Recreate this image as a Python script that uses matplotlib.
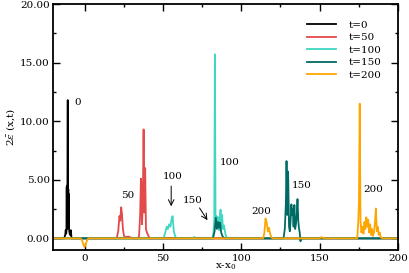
import numpy as np
import matplotlib.pyplot as plt
from matplotlib.ticker import MultipleLocator, FormatStrFormatter

plt.rcParams['font.family'] = ['DejaVu Serif']
plt.rcParams['mathtext.fontset'] = 'dejavuserif'

# wave energy density snapshots
x_t0 = [-20, -13, -12.3, -12.0, -11.7, -11.5, -11.35, -11.25, -11.15, -11.05, -10.95,
        -10.85, -10.75, -10.7, -10.65, -10.55, -10.45, -10.35, -10.25, -10.15, -10.05,
        -9.9, -9.6, -9.3, -9.0, -8.7, -8.3, 200]
y_t0 = [0, 0, 0.3, 0.7, 0.4, 0.6, 4.4, 0.8, 4.5, 1.0, 4.3,
        3.0, 9.0, 11.8, 2.5, 4.4, 1.0, 4.2, 0.9, 3.8, 1.2,
        0.8, 0.5, 0.3, 0.6, 0.7, 0.0, 0]

x_t50 = [-20, 20.5, 21.5, 22.3, 22.8, 23.4, 23.9, 24.5, 25.2, 26, 28, 30, 31,
         34, 34.8, 35.5, 36.0, 36.3, 36.7, 37.2, 37.7, 38.2, 38.7, 39.2, 39.8, 40.5, 41.5, 200]
y_t50 = [0, 0, 0.6, 1.9, 1.5, 2.65, 2.1, 0.8, 0.2, 0.1, 0.15, 0.05, 0,
         0, 0.2, 2.0, 5.1, 4.6, 1.2, 3.0, 9.3, 2.2, 6.0, 0.8, 0.5, 0.3, 0, 0]

x_t100 = [-20, 50.5, 51.5, 52.5, 53.2, 54, 54.8, 55.5, 56.2, 57, 58, 60, 69, 70, 71,
          81.5, 82.3, 82.8, 83.2, 83.6, 84.2, 84.8, 85.3, 85.8, 86.3, 86.8, 87.3,
          87.8, 88.3, 89, 90, 91, 200]
y_t100 = [0, 0, 0.5, 1.0, 0.8, 1.2, 1.0, 1.6, 1.9, 0.6, 0.1, 0, 0, 0.12, 0,
          0, 0.5, 1.5, 15.7, 1.2, 1.9, 1.0, 1.8, 0.7, 1.5, 2.45, 0.9,
          2.0, 0.8, 1.1, 0.3, 0, 0]

x_t150 = [-20, 82, 83, 83.8, 84.5, 85.2, 85.8, 86.5, 87.2, 88, 89,
          127, 127.8, 128.5, 128.9, 129.4, 129.9, 130.5, 131, 131.5, 132, 132.4, 132.9,
          133.4, 133.9, 134.4, 134.9, 135.4, 135.9, 136.4, 136.8, 137.3, 137.8, 138.3, 200]
y_t150 = [0, 0, 0.6, 1.76, 0.8, 1.4, 0.9, 1.34, 0.5, 0.2, 0,
          0, 0.8, 3.0, 6.6, 2.0, 5.7, 1.0, 0.6, 1.5, 2.9, 2.0, 2.5,
          1.0, 2.85, 0.8, 1.2, 2.0, 3.35, 1.5, 0.9, 0.5, -0.25, 0, 0]

x_t200 = [-20, -2.5, -1.5, -0.8, 0, 0.8, 1.5, 2.5,
          114, 114.8, 115.5, 116.3, 117, 117.7, 118.4, 119.2, 120,
          150, 151, 152, 153,
          174, 174.6, 175.1, 175.6, 176.1, 176.7, 177.3, 178, 178.6, 179.2, 179.8,
          180.4, 181, 181.6, 182.2, 182.8, 183.4, 184, 184.7, 185.3, 185.9, 186.5,
          187.1, 187.7, 188.4, 189, 190, 200]
y_t200 = [0, 0, -0.2, -0.5, -0.75, -0.5, -0.2, 0,
          0, 0.5, 1.7, 1.3, 0.6, 0.9, 0.4, 0.1, 0,
          0, 0.1, 0.05, 0,
          0, 1.2, 3.0, 11.5, 1.5, 0.5, 1.0, 0.4, 1.4, 0.8, 1.8,
          1.0, 1.6, 0.5, 1.2, 0.3, 0.8, 0.2, 0.5, 1.3, 2.55, 0.6,
          1.0, 0.3, 0.5, 0.1, 0, 0]

series = [
    (x_t0, y_t0, 'black', 't=0'),
    (x_t50, y_t50, '#e34a4a', 't=50'),
    (x_t100, y_t100, '#3fd6c2', 't=100'),
    (x_t150, y_t150, '#006b63', 't=150'),
    (x_t200, y_t200, '#ffa500', 't=200'),
]

fig = plt.figure(figsize=(4.09, 2.73), dpi=100)
ax = fig.add_axes([0.13, 0.084, 0.843, 0.901])

for xs, ys, c, lab in series:
    ax.plot(xs, ys, color=c, lw=1.3, label=lab)

fs = 7.5
ax.text(-4.3, 11.6, '0', fontsize=fs, ha='center', va='center')
ax.text(27.7, 3.7, '50', fontsize=fs, ha='center', va='center')
ax.text(56, 5.3, '100', fontsize=fs, ha='center', va='center')
ax.annotate('', xy=(55.3, 2.5), xytext=(55.3, 4.7),
            arrowprops=dict(arrowstyle='->', lw=0.7, color='black'))
ax.text(92.6, 6.5, '100', fontsize=fs, ha='center', va='center')
ax.text(69.2, 3.2, '150', fontsize=fs, ha='center', va='center')
ax.annotate('', xy=(79.4, 1.35), xytext=(72.4, 2.8),
            arrowprops=dict(arrowstyle='->', lw=0.7, color='black'))
ax.text(112.8, 2.3, '200', fontsize=fs, ha='center', va='center')
ax.text(138.4, 4.5, '150', fontsize=fs, ha='center', va='center')
ax.text(184.5, 4.2, '200', fontsize=fs, ha='center', va='center')

ax.set_xlim(-20, 200)
ax.set_ylim(-1, 20)
ax.xaxis.set_major_locator(MultipleLocator(50))
ax.xaxis.set_minor_locator(MultipleLocator(25))
ax.yaxis.set_major_locator(MultipleLocator(5))
ax.yaxis.set_minor_locator(MultipleLocator(2.5))
ax.yaxis.set_major_formatter(FormatStrFormatter('%.2f'))
ax.tick_params(which='both', direction='in', top=True, right=True, labelsize=fs, width=1.0)
ax.tick_params(which='major', length=5, pad=2.5)
ax.tick_params(which='minor', length=2.5)
for s in ax.spines.values():
    s.set_linewidth(1.3)

ax.set_xlabel('x-x$_0$', fontsize=fs, labelpad=-1)
ax.set_ylabel(r'$2\bar{\varepsilon}$ (x,t)', fontsize=fs, labelpad=2)

ax.legend(loc='upper right', frameon=False, fontsize=fs, handlelength=2.8,
          handletextpad=1.2, labelspacing=0.3, borderaxespad=1.2)

fig.savefig('out.png', dpi=100)
